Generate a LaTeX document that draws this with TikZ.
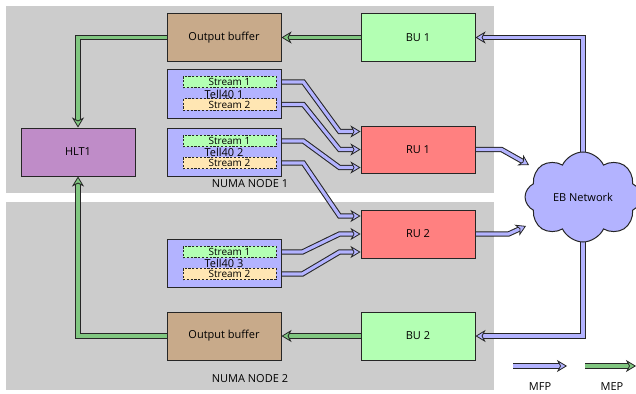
\documentclass[tikz,border=0pt]{standalone}
\usepackage{fontspec}
\setmainfont{Open Sans}
\usetikzlibrary{arrows.meta,shapes.symbols,calc}
\pgfdeclarelayer{bg}\pgfdeclarelayer{mid}
\pgfsetlayers{bg,mid,main}
\definecolor{numagray}{HTML}{CCCCCC}
\definecolor{obc}{HTML}{C8AA8A}
\definecolor{buc}{HTML}{B3FFB3}
\definecolor{ruc}{HTML}{FF8080}
\definecolor{hltc}{HTML}{BF8CC8}
\definecolor{tellc}{HTML}{B3B3FF}
\definecolor{s1c}{HTML}{B3FFB3}
\definecolor{s2c}{HTML}{FFE6B3}
\definecolor{mfpc}{HTML}{B3B3FF}
\definecolor{mepc}{HTML}{80C680}
\definecolor{edgec}{HTML}{262626}
\begin{document}
\begin{tikzpicture}[x=1pt,y=-1pt,
  font=\fontsize{11}{13}\selectfont,
  box/.style={draw=edgec, line width=1pt, minimum width=114pt, minimum height=48pt, inner sep=0pt},
  strm/.style={draw=edgec, dash pattern=on 2.2pt off 1.6pt, line width=0.7pt, minimum width=93pt, minimum height=11.5pt, inner sep=0pt, font=\fontsize{10}{10}\selectfont},
  conn/.style={line width=1.05pt, draw=edgec, double distance=3.2pt, line join=miter},
  mfp/.style={conn, double=mfpc, -{Stealth[length=10pt,width=12pt,inset=3pt,line width=0.8pt,fill=mfpc]}},
  mep/.style={conn, double=mepc, -{Stealth[length=10pt,width=12pt,inset=3pt,line width=0.8pt,fill=mepc]}},
  lbl/.style={inner sep=0pt}]
\useasboundingbox (0,0) rectangle (636,393);

\begin{pgfonlayer}{bg}
  \fill[numagray] (6,6) rectangle (494,193);
  \fill[numagray] (6,202) rectangle (494,390);
\end{pgfonlayer}

% nodes
\node[box, fill=obc] (ob1) at (224,37.5) {Output buffer};
\node[box, fill=buc] (bu1) at (418,37.5) {BU 1};
\node[box, fill=tellc] (t1) at (224,94) {Tell40 1};
\node[strm, fill=s1c] (t1s1) at (229.5,82) {Stream 1};
\node[strm, fill=s2c] (t1s2) at (229.5,104.5) {Stream 2};
\node[box, fill=tellc] (t2) at (224,152) {Tell40 2};
\node[strm, fill=s1c] (t2s1) at (229.5,141) {Stream 1};
\node[strm, fill=s2c] (t2s2) at (229.5,163) {Stream 2};
\node[box, fill=hltc] (hlt) at (78,152) {HLT1};
\node[box, fill=ruc, minimum height=47pt] (ru1) at (418,149.5) {RU 1};
\node[lbl] (numa1) at (250,183.5) {NUMA NODE 1};

\node[box, fill=ruc] (ru2) at (418,234) {RU 2};
\node[box, fill=tellc] (t3) at (224,263) {Tell40 3};
\node[strm, fill=s1c] (t3s1) at (229.5,252) {Stream 1};
\node[strm, fill=s2c] (t3s2) at (229.5,274) {Stream 2};
\node[box, fill=obc] (ob2) at (224,336) {Output buffer};
\node[box, fill=buc] (bu2) at (418,336) {BU 2};
\node[lbl] (numa2) at (250,378.5) {NUMA NODE 2};

\node[cloud, cloud puffs=8, cloud puff arc=130, aspect=1.25, draw=edgec, line width=1pt, fill=mfpc,
      minimum width=116pt, minimum height=90pt, inner sep=0pt] (eb) at (583,197) {EB Network};

% connectors
\begin{pgfonlayer}{mid}
  \draw[mep] (bu1.west) -- (ob1.east);
  \draw[mep] (ob1.west) -| (hlt.north);
  \draw[mep] (bu2.west) -- (ob2.east);
  \draw[mep] (ob2.west) -| (hlt.south);
  \draw[mfp] (eb.center) |- (bu1.east);
  \draw[mfp] (eb.center) |- (bu2.east);
  \draw[mfp] (t1s1.east) -- ++(27,0) -- ($(ru1.west)+(-21,-18)$) -- ($(ru1.west)+(0,-18)$);
  \draw[mfp] (t1s2.east) -- ++(27,0) -- ($(ru1.west)+(-21,0)$) -- (ru1.west);
  \draw[mfp] (t2s1.east) -- ++(27,0) -- ($(ru1.west)+(-21,18)$) -- ($(ru1.west)+(0,18)$);
  \draw[mfp] (t2s2.east) -- ++(27,0) -- ($(ru2.west)+(-21,-18)$) -- ($(ru2.west)+(0,-18)$);
  \draw[mfp] (t3s1.east) -- ++(26,0) -- ($(ru2.west)+(-21,0)$) -- (ru2.west);
  \draw[mfp] (t3s2.east) -- ++(26,0) -- ($(ru2.west)+(-21,18)$) -- ($(ru2.west)+(0,18)$);
  \draw[mfp] (ru1.east) -- ++(26,0) -- ($(eb.center)+(-54,-32)$);
  \draw[mfp] (ru2.east) -- ++(33,0) -- ($(eb.center)+(-57,29)$);
\end{pgfonlayer}

% legend
\coordinate (mfpa) at (513,366);
\coordinate (mfpb) at (567,366);
\coordinate (mepa) at (585,366);
\coordinate (mepb) at (636,366);
\draw[mfp] (mfpa) -- (mfpb);
\draw[mep] (mepa) -- (mepb);
\node[lbl] (mfpl) at (540,386.5) {MFP};
\node[lbl] (mepl) at (612,386.5) {MEP};
\end{tikzpicture}
\end{document}
